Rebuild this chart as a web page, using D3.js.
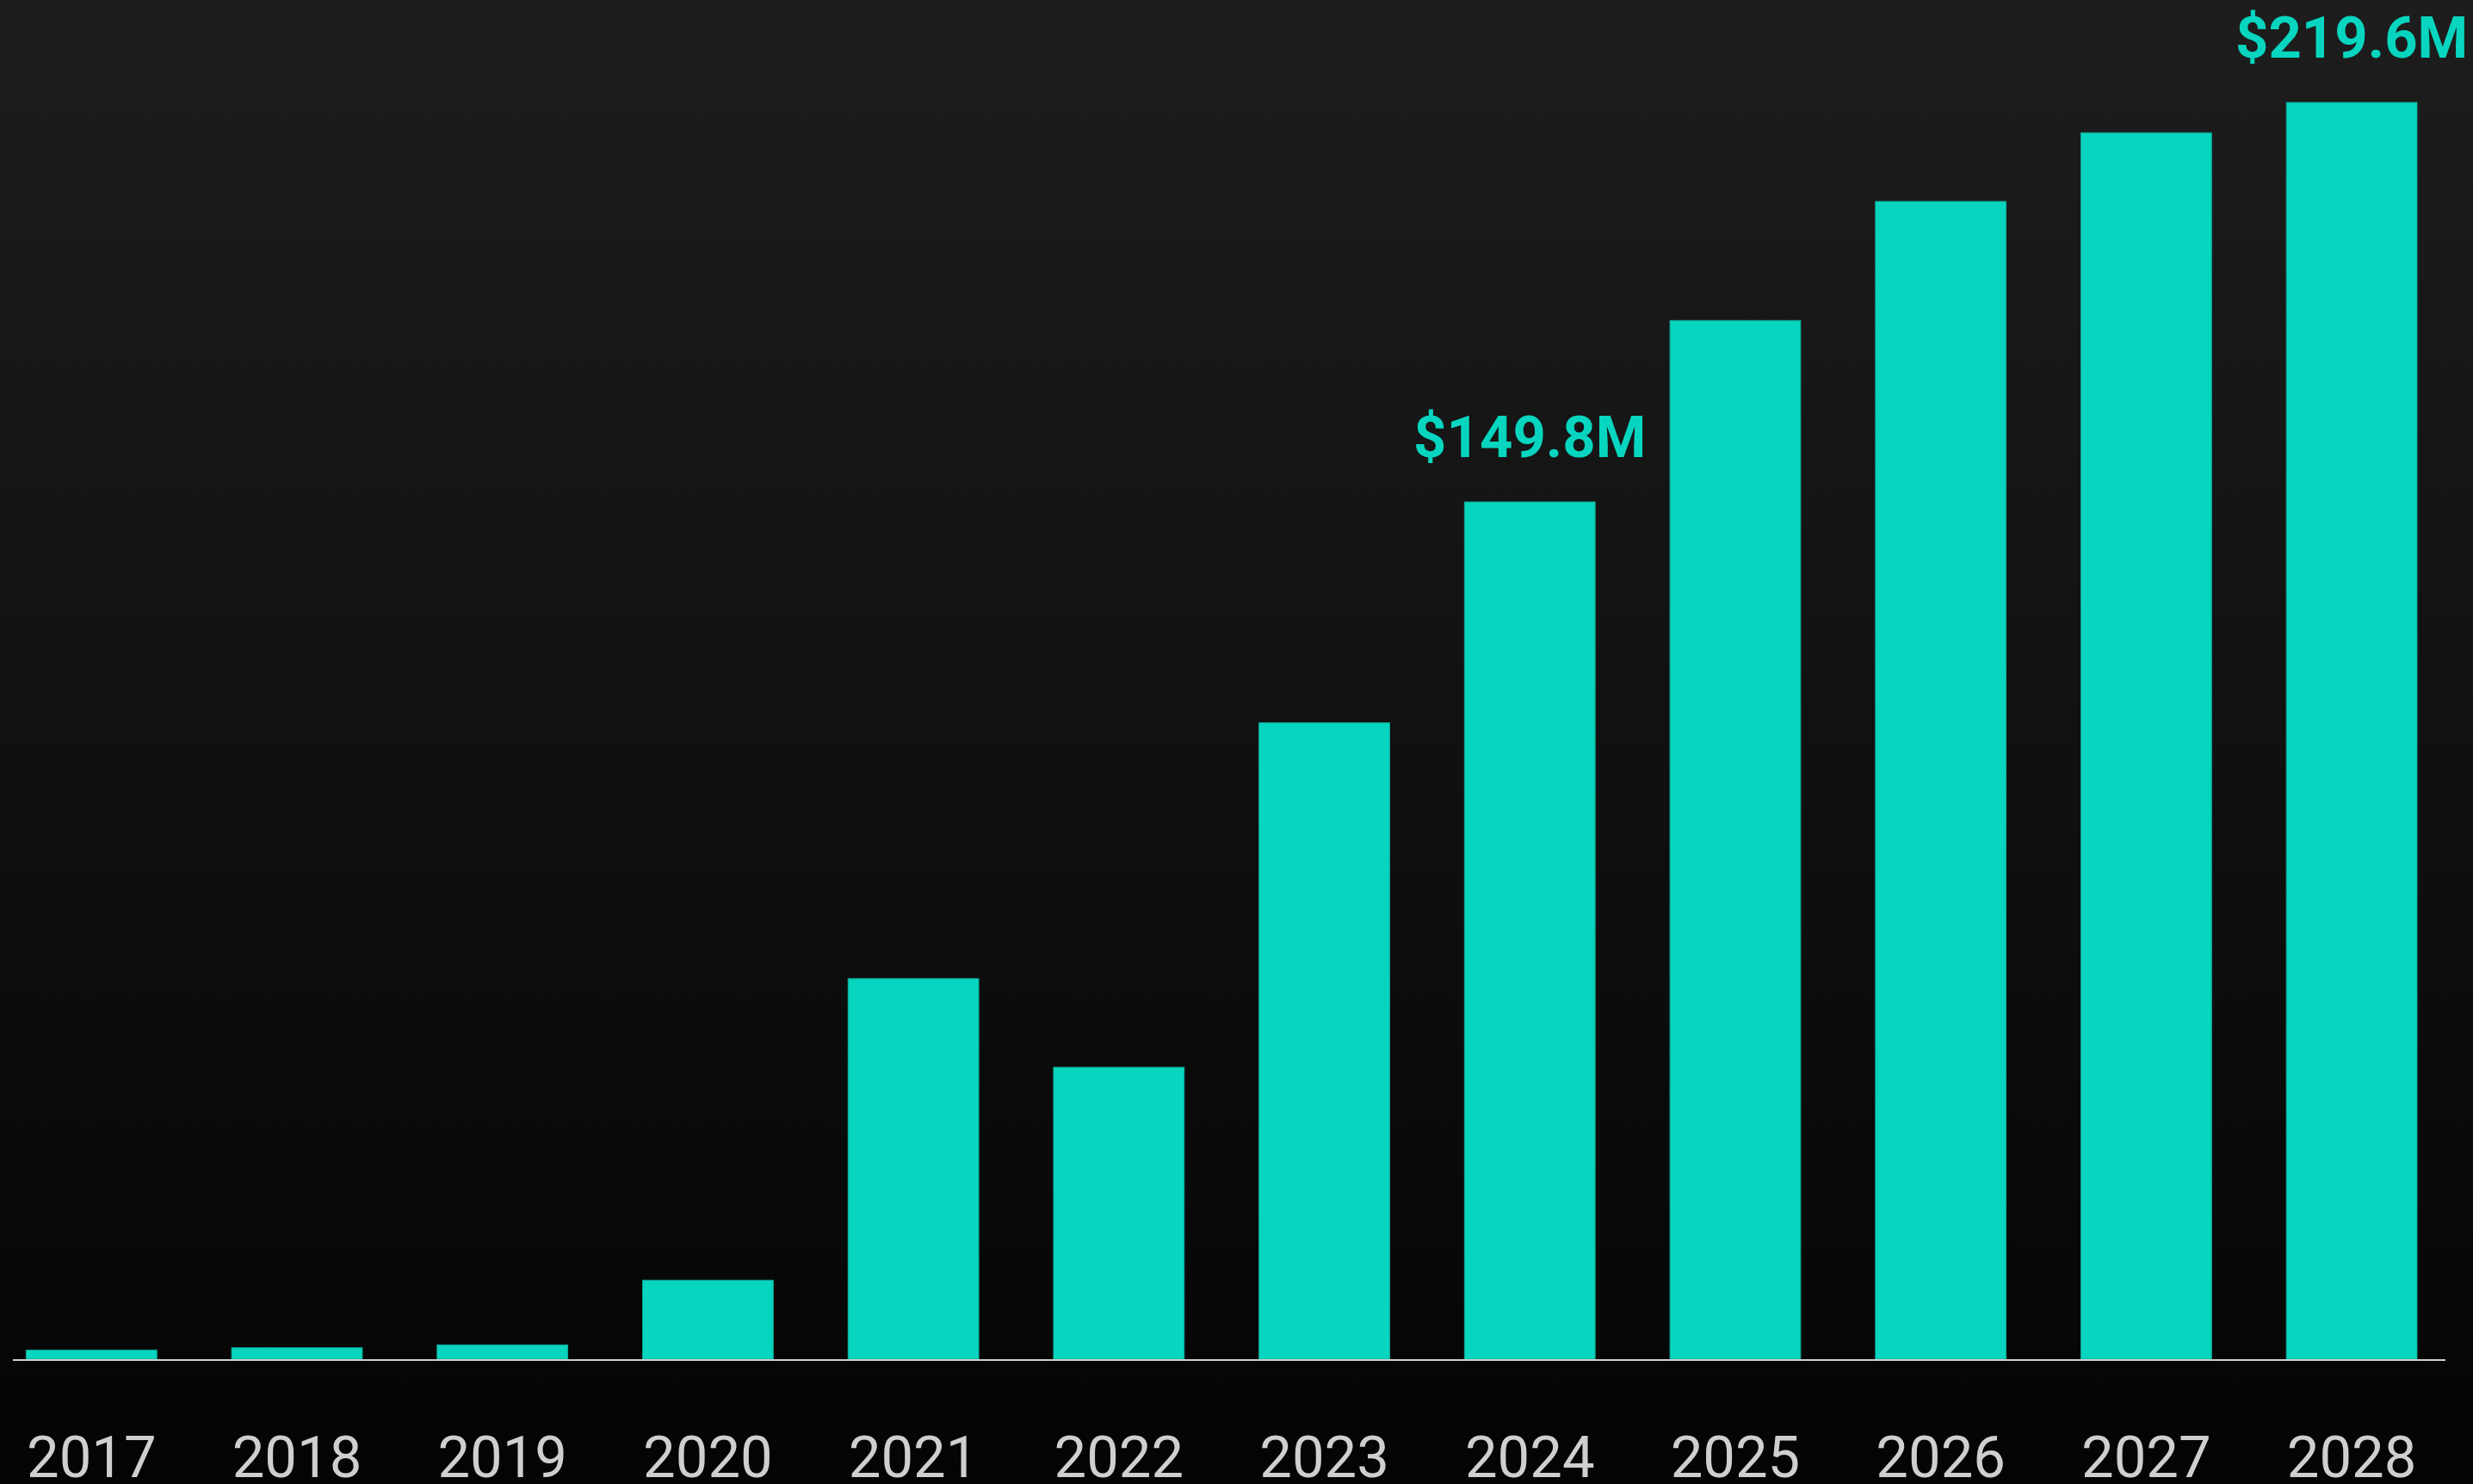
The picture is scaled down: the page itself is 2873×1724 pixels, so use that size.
<!DOCTYPE html>
<html>
<head>
<meta charset="utf-8">
<script src="https://cdn.jsdelivr.net/npm/d3@7"></script>
<style>
  html, body { margin: 0; padding: 0; background: #050505; }
  svg { display: block; }
  .year-label { font-family: Roboto, "Noto Sans", sans-serif; font-size: 67px; fill: #cfcfcf; }
  .value-label { font-family: Roboto, "Noto Sans", sans-serif; font-size: 67px; font-weight: 700; fill: #07d5bf; }
</style>
</head>
<body>
<script>
// Chart data (values in $M)
const years = ["2017", "2018", "2019", "2020", "2021", "2022", "2023", "2024", "2025", "2026", "2027", "2028"];
const values = [1.6, 2.0, 2.5, 13.8, 66.5, 51.0, 111.2, 149.8, 181.5, 202.3, 214.3, 219.6];
// Which bars get a value label on top
const labelledYears = ["2024", "2028"];

document.addEventListener('DOMContentLoaded', () => {
  const w = 2873;
  const h = 1724;
  const baseY = 1579;

  const dataset = years.map((y, i) => ({ year: y, value: values[i] }));

  const svg = d3.select("body")
    .append("svg")
    .attr("width", w)
    .attr("height", h);

  // Background gradient, light at top to near black at bottom
  const grad = svg.append("defs")
    .append("linearGradient")
    .attr("id", "bg")
    .attr("x1", 0).attr("y1", 0)
    .attr("x2", 0).attr("y2", 1);
  grad.append("stop").attr("offset", "0%").attr("stop-color", "#1d1d1d");
  grad.append("stop").attr("offset", "100%").attr("stop-color", "#040404");

  svg.append("rect")
    .attr("width", w)
    .attr("height", h)
    .attr("fill", "url(#bg)");

  // Scales
  const xScale = d3.scaleBand()
    .domain(years)
    .range([30.4, 2808])
    .paddingInner(0.364)
    .paddingOuter(0);

  const yScale = d3.scaleLinear()
    .domain([0, 219.6])
    .range([baseY, 119]);

  // Bars
  svg.selectAll("rect.bar")
    .data(dataset)
    .enter()
    .append("rect")
    .attr("class", "bar")
    .attr("x", d => xScale(d.year))
    .attr("y", d => yScale(d.value))
    .attr("width", xScale.bandwidth())
    .attr("height", d => baseY - yScale(d.value))
    .attr("fill", "#07d5bf")
    .attr("stroke", "#0ea897")
    .attr("stroke-width", 1);

  // Baseline
  svg.append("line")
    .attr("x1", 15)
    .attr("x2", 2841)
    .attr("y1", baseY + 1)
    .attr("y2", baseY + 1)
    .attr("stroke", "#d0d0d0")
    .attr("stroke-width", 2);

  // Year labels under the bars
  svg.selectAll("text.year-label")
    .data(dataset)
    .enter()
    .append("text")
    .attr("class", "year-label")
    .attr("x", d => xScale(d.year) + xScale.bandwidth() / 2)
    .attr("y", 1716)
    .style("text-anchor", "middle")
    .text(d => d.year);

  // Value labels on selected bars
  svg.selectAll("text.value-label")
    .data(dataset.filter(d => labelledYears.includes(d.year)))
    .enter()
    .append("text")
    .attr("class", "value-label")
    .attr("x", d => xScale(d.year) + xScale.bandwidth() / 2)
    .attr("y", d => yScale(d.value) - 52)
    .style("text-anchor", "middle")
    .text(d => `$${d.value.toFixed(1)}M`);
});
</script>
</body>
</html>
